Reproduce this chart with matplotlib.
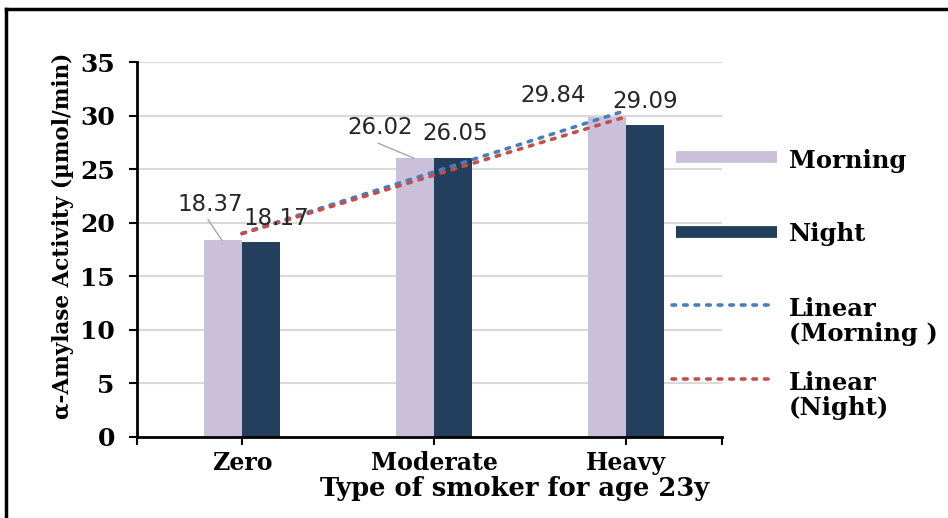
import matplotlib
matplotlib.use("Agg")
import matplotlib.pyplot as plt
from matplotlib.lines import Line2D
import numpy as np

categories = ["Zero", "Moderate", "Heavy"]
morning = [18.37, 26.02, 29.84]
night = [18.17, 26.05, 29.09]
series_names = ["Morning", "Night"]
trend_names = [["Linear", "(Morning )"], ["Linear", "(Night)"]]
yticks = [0, 5, 10, 15, 20, 25, 30, 35]

c_morning = "#CBC0DA"
c_night = "#243E5E"
c_tr_m = "#4A7EBB"
c_tr_n = "#C0504D"
serif = "DejaVu Serif"
lab_font = "DejaVu Sans"

fig = plt.figure(figsize=(9.48, 5.18), dpi=100)
ax = fig.add_axes([137/948, 1-437/518, (722-137)/948, (437-62)/518])

x = np.arange(len(categories))
w = 0.2
bm = ax.bar(x - w/2, morning, w, color=c_morning, zorder=2)
bn = ax.bar(x + w/2, night, w, color=c_night, zorder=2)

# linear trendlines
dot = (0, (1, 2.2))
for vals, col in [(morning, c_tr_m), (night, c_tr_n)]:
    p = np.polyfit(x, vals, 1)
    ax.plot(x, np.polyval(p, x), linestyle=dot, color=col, lw=2.6,
            dash_capstyle="round", zorder=3)

ax.set_xlim(-0.547, 2.5)
ax.set_ylim(0, 35)
ax.set_yticks(yticks)
ax.set_yticklabels([str(t) for t in yticks], fontfamily=serif, fontweight="bold", fontsize=18)
ax.set_xticks(x)
ax.set_xticklabels(categories, fontfamily=serif, fontweight="bold", fontsize=17)
ax.set_xticks([-0.547, 2.5], minor=True)
ax.tick_params(axis="x", which="both", length=6, width=1.5, direction="out", pad=4)
ax.tick_params(axis="y", length=6, width=1.5, direction="out", pad=10)
ax.grid(axis="y", color="#D9D9D9", lw=1.5, zorder=0)
ax.set_axisbelow(True)
for s in ["top", "right"]:
    ax.spines[s].set_visible(False)
for s in ["left", "bottom"]:
    ax.spines[s].set_linewidth(2)
    ax.spines[s].set_color("black")

ax.set_xlabel("Type of smoker for age 23y", fontfamily=serif, fontweight="bold", fontsize=18.5)
ax.xaxis.set_label_coords((515-137)/585, -(476-437)/375)
ax.set_ylabel("α-Amylase Activity (µmol/min)", fontfamily=serif, fontweight="bold", fontsize=15.5)
ax.yaxis.set_label_coords(-(137-74)/585, (437-236)/375)

# data labels (positions in data coords)
label_pos_m = [(-0.167, 21.70), (0.719, 28.84), (1.620, 31.92)]
label_pos_n = [(0.177, 20.35), (1.109, 28.37), (2.099, 31.27)]
for v, (lx, ly) in zip(morning, label_pos_m):
    ax.text(lx, ly, f"{v:.2f}", ha="center", va="center", fontsize=16.5, fontfamily=lab_font, color="#262626", zorder=4)
for v, (lx, ly) in zip(night, label_pos_n):
    ax.text(lx, ly, f"{v:.2f}", ha="center", va="center", fontsize=16.5, fontfamily=lab_font, color="#262626", zorder=4)
# leader lines for first two morning labels
for i in [0, 1]:
    lx, ly = label_pos_m[i]
    ax.plot([lx - 0.01, x[i] - w + 0.095], [ly - 1.42, morning[i]], color="#A6A6A6", lw=1, zorder=4)

# manual legend in figure coordinates
def fy(py):
    return 1 - py / 518
def fx(px):
    return px / 948

fig.add_artist(Line2D([fx(676), fx(777)], [fy(157), fy(157)], color=c_morning, lw=8.5, solid_capstyle="butt"))
fig.add_artist(Line2D([fx(676), fx(777)], [fy(232), fy(232)], color=c_night, lw=8.5, solid_capstyle="butt"))
fig.add_artist(Line2D([fx(672), fx(772)], [fy(305), fy(305)], color=c_tr_m, lw=2.6, linestyle=dot, dash_capstyle="round"))
fig.add_artist(Line2D([fx(672), fx(772)], [fy(379), fy(379)], color=c_tr_n, lw=2.6, linestyle=dot, dash_capstyle="round"))
leg_lines = [(series_names[0], 158), (series_names[1], 232),
             (trend_names[0][0], 306), (trend_names[0][1], 331),
             (trend_names[1][0], 381), (trend_names[1][1], 406)]
for t, py in leg_lines:
    fig.text(fx(789), fy(py), t, fontfamily=serif, fontweight="bold", fontsize=17.5,
             va="center_baseline", ha="left")

# outer frame
fig.add_artist(Line2D([fx(6), fx(6)], [0, fy(9)], color="black", lw=2.5))
fig.add_artist(Line2D([fx(6), 1], [fy(9), fy(9)], color="black", lw=2.5))

fig.savefig("out.png", dpi=100)
